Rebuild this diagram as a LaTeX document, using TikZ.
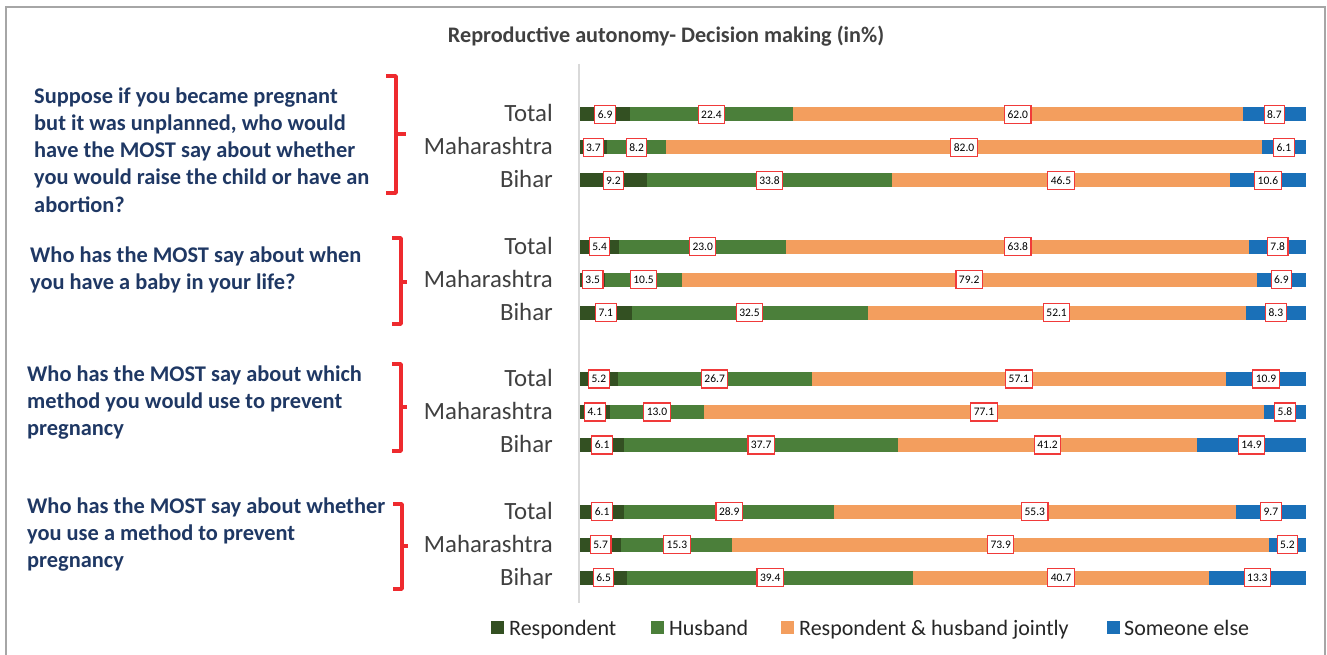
\documentclass[tikz,border=0pt]{standalone}
\usepackage{fontspec}
\setmainfont{Carlito}
\definecolor{cresp}{HTML}{335022}
\definecolor{chusb}{HTML}{4B7F3A}
\definecolor{cjoint}{HTML}{F39E5E}
\definecolor{celse}{HTML}{1A70B8}
\definecolor{valred}{HTML}{F03A3A}
\definecolor{bracered}{HTML}{EE2A2E}
\definecolor{navy}{HTML}{1F3864}
\definecolor{labgray}{HTML}{404040}
\definecolor{framegray}{HTML}{A6A6A6}
\definecolor{axisgray}{HTML}{D9D9D9}
\tikzset{
  val/.style={draw=valred, fill=white, line width=1.1pt, inner xsep=3pt, inner ysep=0pt,
    minimum height=18pt, font=\fontsize{11.5}{13}\selectfont, text=black},
  rowlab/.style={anchor=base east, inner sep=0pt, font=\fontsize{24.8}{28}\selectfont, text=labgray},
  qtext/.style={anchor=base west, inner sep=0pt, font=\bfseries\fontsize{22.4}{27}\selectfont, text=navy},
  bracepath/.style={draw=bracered, line width=3.5pt, line join=round},
  legtext/.style={anchor=base west, inner sep=0pt, font=\fontsize{22}{26}\selectfont, text=black!85},
}
\newcommand\stackbar[7]{%
  \pgfmathsetmacro\sbxa{580+7.26*#4}%
  \pgfmathsetmacro\sbxb{\sbxa+7.26*#5}%
  \pgfmathsetmacro\sbxc{\sbxb+7.26*#6}%
  \fill[cresp] (580,#2-7) rectangle (\sbxa,#2+7);
  \fill[chusb] (\sbxa,#2-7) rectangle (\sbxb,#2+7);
  \fill[cjoint] (\sbxb,#2-7) rectangle (\sbxc,#2+7);
  \fill[celse] (\sbxc,#2-7) rectangle (1306,#2+7);
  \node[val] (#1r) at ({(580+\sbxa)/2},#2) {#4};
  \node[val] (#1h) at ({(\sbxa+\sbxb)/2},#2) {#5};
  \node[val] (#1j) at ({(\sbxb+\sbxc)/2},#2) {#6};
  \node[val] (#1e) at ({(\sbxc+1306)/2},#2) {#7};
  \node[rowlab] (#1n) at (553,#2+7.5) {#3};
}
\begin{document}
\begin{tikzpicture}[x=1pt,y=-1pt]
\useasboundingbox (0,0) rectangle (1327,655);
\fill[white] (0,0) rectangle (1327,655);
% frame
\draw[framegray, line width=2pt] (5.5,660) -- (5.5,7) -- (1324.5,7) -- (1324.5,660);
% title
\node[anchor=base, inner sep=0pt, font=\bfseries\fontsize{22.2}{26}\selectfont, text=labgray] (title) at (666,43) {Reproductive autonomy- Decision making (in\%)};
% axis
\draw[axisgray, line width=2pt] (579,64) -- (579,603);
% bars
\stackbar{aT}{114.5}{Total}{6.9}{22.4}{62.0}{8.7}
\stackbar{aM}{147.5}{Maharashtra}{3.7}{8.2}{82.0}{6.1}
\stackbar{aB}{180.5}{Bihar}{9.2}{33.8}{46.5}{10.6}
\stackbar{bT}{246.5}{Total}{5.4}{23.0}{63.8}{7.8}
\stackbar{bM}{279.5}{Maharashtra}{3.5}{10.5}{79.2}{6.9}
\stackbar{bB}{312.5}{Bihar}{7.1}{32.5}{52.1}{8.3}
\stackbar{cT}{379}{Total}{5.2}{26.7}{57.1}{10.9}
\stackbar{cM}{412}{Maharashtra}{4.1}{13.0}{77.1}{5.8}
\stackbar{cB}{445}{Bihar}{6.1}{37.7}{41.2}{14.9}
\stackbar{dT}{511.5}{Total}{6.1}{28.9}{55.3}{9.7}
\stackbar{dM}{544.5}{Maharashtra}{5.7}{15.3}{73.9}{5.2}
\stackbar{dB}{577.5}{Bihar}{6.5}{39.4}{40.7}{13.3}
% braces
\draw[bracepath] (386,76) -- (396,76) -- (396,193) -- (386,193);
\draw[bracepath] (396,134) -- (406,134);
\draw[bracepath] (392,238) -- (401,238) -- (401,324) -- (392,324);
\draw[bracepath] (401,282) -- (407,282);
\draw[bracepath] (392,364) -- (401,364) -- (401,451) -- (392,451);
\draw[bracepath] (401,407) -- (407,407);
\draw[bracepath] (393,504) -- (402,504) -- (402,589) -- (393,589);
\draw[bracepath] (402,546) -- (408,546);
% questions
\node[qtext] (q1a) at (34,104) {Suppose if you became pregnant};
\node[qtext] (q1b) at (34,131) {but it was unplanned, who would};
\node[qtext] (q1c) at (34,158) {have the MOST say about whether};
\node[qtext] (q1d) at (34,185) {you would raise the child or have an};
\node[qtext] (q1e) at (34,212) {abortion?};
\node[qtext] (q2a) at (30,262) {Who has the MOST say about when};
\node[qtext] (q2b) at (30,289) {you have a baby in your life?};
\node[qtext] (q3a) at (27,381) {Who has the MOST say about which};
\node[qtext] (q3b) at (27,408) {method you would use to prevent};
\node[qtext] (q3c) at (27,435) {pregnancy};
\node[qtext] (q4a) at (27,513) {Who has the MOST say about whether};
\node[qtext] (q4b) at (27,540) {you use a method to prevent};
\node[qtext] (q4c) at (27,567) {pregnancy};
% legend
\fill[cresp] (491,621) rectangle (504,634);
\node[legtext] (l1) at (509,635) {Respondent};
\fill[chusb] (651,621) rectangle (664,634);
\node[legtext] (l2) at (669,635) {Husband};
\fill[cjoint] (781,621) rectangle (794,634);
\node[legtext] (l3) at (799,635) {Respondent \& husband jointly};
\fill[celse] (1107,621) rectangle (1120,634);
\node[legtext] (l4) at (1124,635) {Someone else};
\end{tikzpicture}
\end{document}
